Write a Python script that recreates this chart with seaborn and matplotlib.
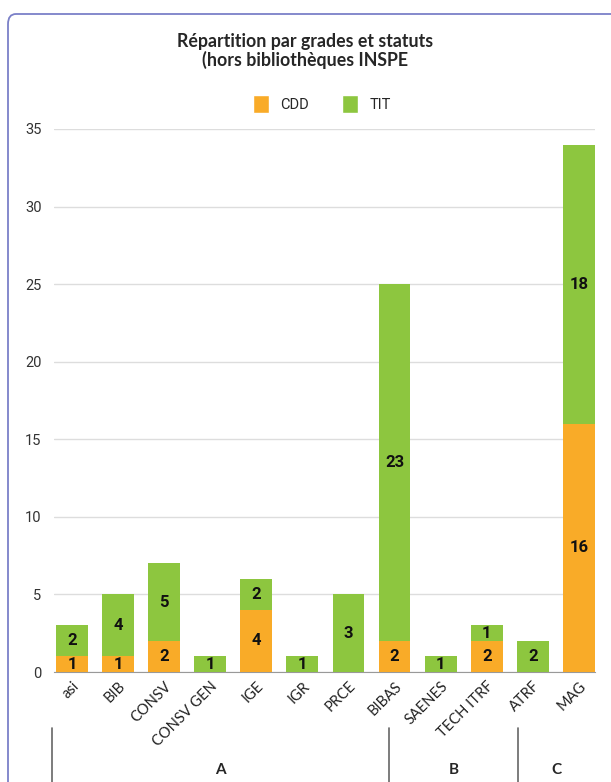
import matplotlib
matplotlib.use('Agg')
import matplotlib.pyplot as plt
import matplotlib.transforms as mtransforms
from matplotlib.patches import FancyBboxPatch, Patch
import seaborn as sns
import pandas as pd

categories = ["asi", "BIB", "CONSV", "CONSV GEN", "IGE", "IGR", "PRCE",
              "BIBAS", "SAENES", "TECH ITRF", "ATRF", "MAG"]
cdd = [1, 1, 2, 0, 4, 0, 0, 2, 0, 2, 0, 16]
tit = [2, 4, 5, 1, 2, 1, 5, 23, 1, 1, 2, 18]
# labels as printed on the chart (PRCE shows 3 on a bar of height 5)
cdd_labels = ["1", "1", "2", "", "4", "", "", "2", "", "2", "", "16"]
tit_labels = ["2", "4", "5", "1", "2", "1", "3", "23", "1", "1", "2", "18"]
groups = ["A", "B", "C"]
group_bounds = [-0.43, 6.88, 9.68, 11.6]

ORANGE = "#F9AB28"
GREEN = "#8DC63F"

df = pd.DataFrame({"cat": categories, "CDD": cdd, "TIT": tit})
df["total"] = df["CDD"] + df["TIT"]

sns.set_style("white")
plt.rcParams['font.family'] = ['Roboto', 'DejaVu Sans']

fig = plt.figure(figsize=(6.11, 7.82), dpi=100)
ax = fig.add_axes([54 / 611, 1 - 672 / 782, (595 - 54) / 611, (672 - 129) / 782])

sns.barplot(data=df, x="cat", y="total", color=GREEN, width=0.69,
            saturation=1, ax=ax, zorder=3, linewidth=0, edgecolor="none")
sns.barplot(data=df, x="cat", y="CDD", color=ORANGE, width=0.69,
            saturation=1, ax=ax, zorder=3, linewidth=0, edgecolor="none")

for i, row in df.iterrows():
    if cdd_labels[i]:
        ax.text(i, row["CDD"] / 2, cdd_labels[i], ha="center", va="center",
                fontsize=12, fontweight="bold", color="#111111", zorder=5)
    if tit_labels[i]:
        ax.text(i, row["CDD"] + row["TIT"] / 2, tit_labels[i], ha="center",
                va="center", fontsize=12, fontweight="bold", color="#111111", zorder=5)

ax.set_ylim(0, 35)
ax.set_xlim(-0.39, 11.35)
ax.set_yticks(range(0, 36, 5))
ax.yaxis.grid(True, color="#dddddd", linewidth=1, zorder=0)
ax.set_xlabel("")
ax.set_ylabel("")
for s in ["top", "right", "left"]:
    ax.spines[s].set_visible(False)
ax.spines["bottom"].set_color("#999999")
ax.tick_params(axis="y", length=0, labelsize=10.5, colors="#333333", pad=9)
ax.tick_params(axis="x", length=0, labelsize=10.5, colors="#222222", pad=5)
ax.set_xticks(range(len(categories)))
ax.set_xticklabels(categories, rotation=45, ha="right", rotation_mode="anchor",
                   family=["Lato", "DejaVu Sans"])

# group annotation below the axis
trans = mtransforms.blended_transform_factory(ax.transData, fig.transFigure)
for b in group_bounds[:3]:
    ax.plot([b, b], [0, 1 - 728 / 782], color="#666666", linewidth=1.2,
            transform=trans, clip_on=False)
for g, lo, hi in zip(groups, group_bounds[:-1], group_bounds[1:]):
    ax.text((lo + hi) / 2 - (0.12 if g == "C" else 0), 1 - 770 / 782, g,
            transform=trans, ha="center", va="center", fontsize=11,
            fontweight="bold", family=["Lato", "DejaVu Sans"])

fig.text(0.5, 1 - 42 / 782, "Répartition par grades et statuts", ha="center",
         va="center", fontsize=12.8, fontweight="bold", family=["Lato", "DejaVu Sans"])
fig.text(0.5, 1 - 60 / 782, "(hors bibliothèques INSPE", ha="center",
         va="center", fontsize=12.8, fontweight="bold", family=["Lato", "DejaVu Sans"])

handles = [Patch(facecolor=ORANGE, label="CDD"), Patch(facecolor=GREEN, label="TIT")]
fig.legend(handles=handles, loc="center", bbox_to_anchor=(322 / 611, 1 - 104 / 782),
           ncol=2, frameon=False, fontsize=10.5, handlelength=1.05, handleheight=1.5,
           columnspacing=2.3, handletextpad=0.8)

card = FancyBboxPatch((8 / 611, -0.05), 1.2, 1 - 14 / 782 + 0.05,
                      boxstyle="round,pad=0,rounding_size=0.013",
                      transform=fig.transFigure, facecolor="none",
                      edgecolor="#7b80c8", linewidth=1.3, clip_on=False)
fig.patches.append(card)

fig.savefig("out.png", dpi=100)
